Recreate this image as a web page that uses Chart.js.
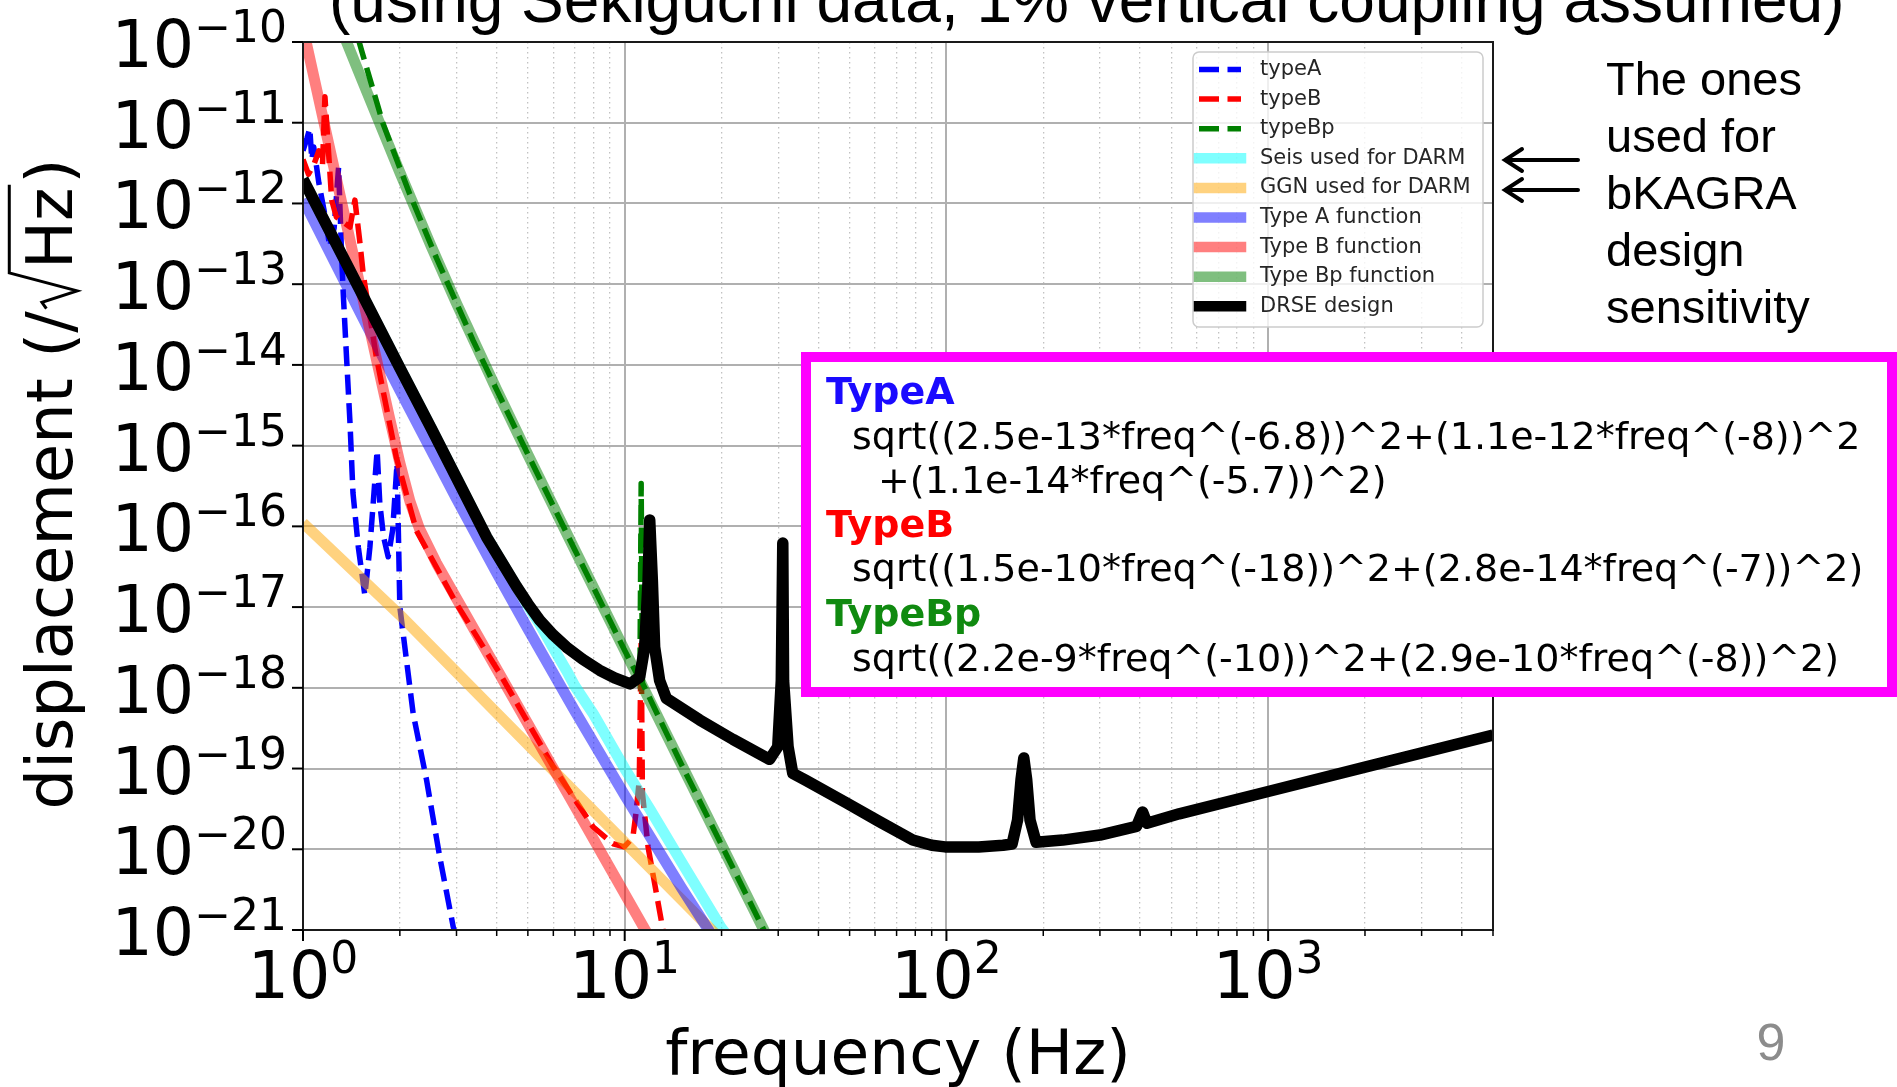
<!DOCTYPE html>
<html>
<head>
<meta charset="utf-8">
<script src="https://cdn.jsdelivr.net/npm/chart.js@4.4.0/dist/chart.umd.min.js"></script>
<style>
  html, body { margin: 0; padding: 0; background: #fff; overflow: hidden; }
  #wrap { width: 1897px; height: 1087px; }
</style>
</head>
<body>
<div id="wrap"><canvas id="noiseChart" width="1897" height="1087"></canvas></div>
<script>
// ---- measured data (dashed) ----
const typeAFreq = [1.0, 1.03, 1.05, 1.065, 1.08, 1.12, 1.18, 1.21, 1.25, 1.29, 1.32, 1.334, 1.367, 1.40, 1.43, 1.486, 1.557, 1.614, 1.70, 1.733, 1.78, 1.84, 1.90, 1.96, 2.0, 2.2, 2.42, 2.66, 2.93, 3.0];
const typeAVal  = [4.5e-12, 6.5e-12, 8.5e-12, 3.5e-12, 5.0e-12, 1.8e-12, 6.0e-13, 2.9e-13, 5.0e-13, 2.8e-12, 2.0e-13, 7.6e-14, 1.15e-14, 1.9e-15, 2.6e-16, 5.5e-17, 1.4e-17, 5.5e-17, 8.7e-16, 1.9e-16, 7.4e-17, 4.2e-17, 9.0e-17, 6.0e-16, 1.0e-17, 4.8e-19, 7.3e-20, 8.1e-21, 1.1e-21, 8.0e-22];

const typeBFreq = [1.0, 1.04, 1.08, 1.12, 1.15, 1.17, 1.228, 1.27, 1.40, 1.45, 1.50, 1.54, 1.69, 1.95, 2.25, 3.0, 4.09, 6.0, 7.97, 9.2, 9.97, 10.6, 10.84, 11.1, 11.2, 11.25, 11.35, 11.82, 13.15, 14.0];
const typeBVal  = [3.5e-12, 2.3e-12, 3.0e-12, 4.5e-12, 3.0e-12, 2.1e-11, 1.1e-12, 6.8e-13, 5.1e-13, 1.1e-12, 3.5e-13, 1.3e-13, 1.26e-14, 7.2e-16, 8.9e-17, 1.1e-17, 1.5e-18, 1.05e-19, 1.9e-20, 1.17e-20, 1.07e-20, 1.4e-20, 2.8e-20, 7.2e-20, 1.0e-18, 3.9e-18, 5.0e-20, 1.07e-20, 1.0e-21, 6.0e-22];

const typeBpFreq = [1.49, 1.52, 1.774, 2.148, 2.6, 3.38, 4, 5, 7, 10, 11.15, 11.25, 11.35, 15, 20, 30];
const typeBpVal  = [1.05e-10, 7.9e-11, 9.7e-12, 1.3e-12, 2.1e-13, 2.0e-14, 4.9e-15, 7.8e-16, 5.1e-17, 2.9e-18, 1.25e-18, 3.4e-16, 1.15e-18, 1.13e-19, 1.13e-20, 4.4e-22];

// ---- noise budget curves ----
const seisFreq = [1, 1.5, 2, 2.5, 3, 3.72, 4.61, 5, 5.44, 6, 6.59, 7, 8, 10, 12, 15, 20, 22];
const seisVal  = [2.0e-12, 8.6e-14, 9.2e-15, 1.66e-15, 4.0e-16, 7.4e-17, 1.8e-17, 1.05e-17, 6.2e-18, 3.1e-18, 1.64e-18, 1.05e-18, 4.7e-19, 1.0e-19, 3.1e-20, 7.0e-21, 1.05e-21, 6.5e-22];

const ggnFreq = [1, 2, 6, 20];
const ggnVal  = [1.1e-16, 8.0e-18, 9.5e-20, 7.5e-22];

const fnAFreq = [1, 1.5, 2, 3, 4, 5, 7, 10, 15, 20];
const fnAVal  = [1.13e-12, 4.6e-14, 4.85e-15, 2.2e-16, 2.65e-17, 5.4e-18, 5.15e-19, 4.66e-20, 3.35e-21, 5.6e-22];

const fnBFreq = [1.0, 1.1, 1.2, 1.3, 1.4, 1.5, 1.7, 1.85, 2.0, 2.15, 2.3, 2.6, 3, 4, 5, 7, 10, 12];
const fnBVal  = [1.5e-10, 2.7e-11, 5.6e-12, 1.33e-12, 3.5e-13, 1.0e-13, 1.07e-14, 2.36e-15, 6.1e-16, 2.04e-16, 9.4e-17, 3.5e-17, 1.28e-17, 1.71e-18, 3.58e-19, 3.4e-20, 2.8e-21, 7.8e-22];

const fnBpFreq = [1.3, 1.5, 2, 2.5, 3, 4, 5, 7, 10, 15, 20, 30];
const fnBpVal  = [1.63e-10, 3.98e-11, 2.43e-12, 2.99e-13, 5.78e-14, 4.9e-15, 7.76e-16, 5.09e-17, 2.91e-18, 1.13e-19, 1.13e-20, 4.4e-22];

const drseFreq = [1.0, 1.5, 2.0, 2.5, 3.0, 3.72, 4.61, 5.0, 5.44, 6.0, 6.59, 7.4, 8.36, 9.3, 10.4, 11.13, 11.54, 11.82, 11.96, 12.19, 12.39, 12.84, 13.47, 17.1, 21.7, 28.2, 29.9, 30.67, 31.0, 31.18, 32.2, 33.3, 34.9, 36.7, 48.8, 61.9, 78.6, 90, 99, 126, 150, 160, 166.4, 170.6, 174, 177.6, 181.9, 190, 230, 300, 390, 407, 420, 529, 1000, 2000, 5000];
const drseVal  = [2.0e-12, 8.6e-14, 9.2e-15, 1.66e-15, 4.0e-16, 7.4e-17, 1.8e-17, 1.1e-17, 6.9e-18, 4.5e-18, 3.2e-18, 2.26e-18, 1.65e-18, 1.33e-18, 1.12e-18, 1.36e-18, 3.2e-18, 2.1e-17, 1.2e-16, 2.1e-17, 3.2e-18, 1.23e-18, 7.4e-19, 4.0e-19, 2.3e-19, 1.3e-19, 1.86e-19, 1.23e-18, 6.2e-17, 1.23e-18, 1.86e-19, 8.7e-20, 7.9e-20, 7.1e-20, 3.76e-20, 2.2e-20, 1.3e-20, 1.12e-20, 1.07e-20, 1.07e-20, 1.12e-20, 1.16e-20, 2.3e-20, 7.3e-20, 1.35e-19, 7.3e-20, 2.3e-20, 1.22e-20, 1.3e-20, 1.5e-20, 1.92e-20, 2.9e-20, 2.1e-20, 2.75e-20, 5.2e-20, 1.04e-19, 2.6e-19];

// ---- axes ----
const xMajorTicks = [1, 10, 100, 1000];
const xMajorExp = ['0', '1', '2', '3'];
const xMinorTicks = [2, 3, 4, 5, 6, 7, 8, 9, 20, 30, 40, 50, 60, 70, 80, 90, 200, 300, 400, 500, 600, 700, 800, 900, 2000, 3000, 4000, 5000];
const yMajorTicks = [1e-21, 1e-20, 1e-19, 1e-18, 1e-17, 1e-16, 1e-15, 1e-14, 1e-13, 1e-12, 1e-11, 1e-10];
const yMajorExp = ['\u221221', '\u221220', '\u221219', '\u221218', '\u221217', '\u221216', '\u221215', '\u221214', '\u221213', '\u221212', '\u221211', '\u221210'];

const FONT = '"DejaVu Sans", sans-serif';
const ARIAL = '"Liberation Sans", Arial, sans-serif';

function pts(fs, vs) {
    return fs.map((f, i) => ({ x: f, y: vs[i] }));
}

const DASH = [20, 8.5];

const seriesDefs = [
    { label: 'typeA', f: typeAFreq, v: typeAVal, color: '#0000ff', width: 5.5, dash: DASH, band: false },
    { label: 'typeB', f: typeBFreq, v: typeBVal, color: '#ff0000', width: 5.5, dash: DASH, band: false },
    { label: 'typeBp', f: typeBpFreq, v: typeBpVal, color: '#008000', width: 5.5, dash: DASH, band: false },
    { label: 'Seis used for DARM', f: seisFreq, v: seisVal, color: 'rgba(0,255,255,0.5)', width: 11, dash: [], band: true },
    { label: 'GGN used for DARM', f: ggnFreq, v: ggnVal, color: 'rgba(255,165,0,0.5)', width: 11, dash: [], band: true },
    { label: 'Type A function', f: fnAFreq, v: fnAVal, color: 'rgba(0,0,255,0.5)', width: 11, dash: [], band: true },
    { label: 'Type B function', f: fnBFreq, v: fnBVal, color: 'rgba(255,0,0,0.5)', width: 11, dash: [], band: true },
    { label: 'Type Bp function', f: fnBpFreq, v: fnBpVal, color: 'rgba(0,128,0,0.5)', width: 11, dash: [], band: true },
    { label: 'DRSE design', f: drseFreq, v: drseVal, color: '#000000', width: 11.5, dash: [], band: true }
];

const datasets = seriesDefs.map((s, i) => ({
    label: s.label,
    data: pts(s.f, s.v),
    borderColor: s.color,
    borderWidth: s.width,
    borderDash: s.dash,
    borderJoinStyle: 'round',
    pointRadius: 0,
    fill: false,
    tension: 0,
    clip: 0,
    order: seriesDefs.length - i   // later entries on top, like matplotlib
}));

function isDecade(v) {
    const l = Math.log10(v);
    return Math.abs(l - Math.round(l)) < 1e-9;
}

function powLabel(ctx, exp, x, baseY, align) {
    ctx.font = '65px ' + FONT;
    const wb = ctx.measureText('10').width;
    ctx.font = '44px ' + FONT;
    const we = ctx.measureText(exp).width;
    const x0 = align === 'center' ? x - (wb + we) / 2 : x - (wb + we);
    ctx.textAlign = 'left';
    ctx.textBaseline = 'alphabetic';
    ctx.fillStyle = '#000';
    ctx.font = '65px ' + FONT;
    ctx.fillText('10', x0, baseY);
    ctx.font = '44px ' + FONT;
    ctx.fillText(exp, x0 + wb, baseY - 25);
}

const decor = {
    id: 'decor',
    afterDraw(chart) {
        const ctx = chart.ctx;
        const a = chart.chartArea;
        const xs = chart.scales.x, ys = chart.scales.y;
        ctx.save();

        // frame
        ctx.strokeStyle = '#1a1a1a';
        ctx.lineWidth = 2;
        ctx.strokeRect(a.left, a.top, a.right - a.left, a.bottom - a.top);

        // tick marks
        ctx.strokeStyle = '#000';
        ctx.lineWidth = 2;
        xMajorTicks.forEach(v => {
            const px = xs.getPixelForValue(v);
            ctx.beginPath(); ctx.moveTo(px, a.bottom); ctx.lineTo(px, a.bottom + 11); ctx.stroke();
        });
        ctx.lineWidth = 1.5;
        xMinorTicks.forEach(v => {
            const px = xs.getPixelForValue(v);
            ctx.beginPath(); ctx.moveTo(px, a.bottom); ctx.lineTo(px, a.bottom + 6); ctx.stroke();
        });
        ctx.lineWidth = 2;
        yMajorTicks.forEach(v => {
            const py = ys.getPixelForValue(v);
            ctx.beginPath(); ctx.moveTo(a.left - 11, py); ctx.lineTo(a.left, py); ctx.stroke();
        });

        // tick labels
        xMajorTicks.forEach((v, i) => powLabel(ctx, xMajorExp[i], xs.getPixelForValue(v), 998, 'center'));
        yMajorTicks.forEach((v, i) => powLabel(ctx, yMajorExp[i], a.left - 16, ys.getPixelForValue(v) + 25, 'right'));

        // x title
        ctx.font = '63px ' + FONT;
        ctx.textAlign = 'center';
        ctx.fillText('frequency (Hz)', (a.left + a.right) / 2, 1074);

        // y title with radical
        ctx.save();
        ctx.translate(72, 484);
        ctx.rotate(-Math.PI / 2);
        const em = 64;
        ctx.font = em + 'px ' + FONT;
        ctx.textAlign = 'left';
        const s1 = 'displacement (/';
        const w1 = ctx.measureText(s1).width;
        const wh = ctx.measureText('Hz').width;
        const wp = ctx.measureText(')').width;
        const wr = 0.66 * em;
        const total = w1 + wr + wh + 0.06 * em + wp;
        let u = -total / 2;
        ctx.fillText(s1, u, 0);
        u += w1;
        ctx.lineWidth = 3;
        ctx.lineJoin = 'miter';
        ctx.beginPath();
        ctx.moveTo(u + 0.04 * em, -0.40 * em);
        ctx.lineTo(u + 0.14 * em, -0.47 * em);
        ctx.lineTo(u + 0.32 * em, 0.08 * em);
        ctx.lineTo(u + 0.60 * em, -0.98 * em);
        ctx.lineTo(u + wr + wh + 0.04 * em, -0.98 * em);
        ctx.stroke();
        ctx.fillText('Hz', u + wr, 0);
        ctx.fillText(')', u + wr + wh + 0.06 * em, 0);
        ctx.restore();

        // legend
        const lx = 1193, ly = 52, lw = 290, lh = 275;
        ctx.beginPath();
        ctx.roundRect(lx, ly, lw, lh, 6);
        ctx.fillStyle = 'rgba(255,255,255,0.8)';
        ctx.fill();
        ctx.strokeStyle = '#cccccc';
        ctx.lineWidth = 1.5;
        ctx.stroke();
        ctx.font = '21px ' + FONT;
        ctx.textAlign = 'left';
        ctx.textBaseline = 'middle';
        seriesDefs.forEach((s, i) => {
            const yy = 69.5 + i * 29.6;
            ctx.strokeStyle = s.color;
            ctx.lineWidth = s.band ? 10.5 : 5.5;
            ctx.setLineDash(s.dash);
            ctx.lineCap = s.band ? 'square' : 'butt';
            ctx.beginPath();
            ctx.moveTo(1199, yy);
            ctx.lineTo(1241, yy);
            ctx.stroke();
            ctx.setLineDash([]);
            ctx.lineCap = 'butt';
            ctx.fillStyle = '#262626';
            ctx.fillText(s.label, 1260, yy);
        });

        // formula box
        ctx.fillStyle = '#ffffff';
        ctx.fillRect(801, 352, 1096, 345);
        ctx.strokeStyle = '#ff00ff';
        ctx.lineWidth = 10;
        ctx.strokeRect(806, 357, 1086, 335);
        ctx.textBaseline = 'alphabetic';
        const rows = [
            ['TypeA', 826, 404, '#1a0aff', true],
            ['sqrt((2.5e-13*freq^(-6.8))^2+(1.1e-12*freq^(-8))^2', 852, 449, '#000', false],
            ['+(1.1e-14*freq^(-5.7))^2)', 878, 493, '#000', false],
            ['TypeB', 826, 537, '#ff0000', true],
            ['sqrt((1.5e-10*freq^(-18))^2+(2.8e-14*freq^(-7))^2)', 852, 581, '#000', false],
            ['TypeBp', 826, 626, '#108a10', true],
            ['sqrt((2.2e-9*freq^(-10))^2+(2.9e-10*freq^(-8))^2)', 852, 671, '#000', false]
        ];
        rows.forEach(r => {
            ctx.font = (r[4] ? 'bold ' : '') + '38px ' + FONT;
            ctx.fillStyle = r[3];
            ctx.fillText(r[0], r[1], r[2]);
        });

        // title (clipped at top of slide)
        ctx.fillStyle = '#000';
        ctx.font = '64px ' + ARIAL;
        ctx.fillText('(using Sekiguchi data, 1% vertical coupling assumed)', 329, 22);

        // side note
        ctx.font = '47px ' + ARIAL;
        ['The ones', 'used for', 'bKAGRA', 'design', 'sensitivity'].forEach((t, i) => {
            ctx.fillText(t, 1606, 95 + i * 57);
        });

        // arrows
        ctx.strokeStyle = '#000';
        ctx.lineWidth = 4;
        ctx.lineCap = 'round';
        [160, 190].forEach(yy => {
            ctx.beginPath();
            ctx.moveTo(1578, yy); ctx.lineTo(1505, yy);
            ctx.moveTo(1522, yy - 11); ctx.lineTo(1505, yy); ctx.lineTo(1522, yy + 11);
            ctx.stroke();
        });

        // page number
        ctx.fillStyle = '#8c8c8c';
        ctx.font = '52px ' + ARIAL;
        ctx.textAlign = 'center';
        ctx.fillText('9', 1771, 1060);

        ctx.restore();
    }
};

const ctx = document.getElementById('noiseChart').getContext('2d');
const noiseChart = new Chart(ctx, {
    type: 'line',
    data: { datasets: datasets },
    options: {
        responsive: false,
        animation: false,
        events: [],
        layout: { autoPadding: false, padding: { left: 303, top: 42, right: 404, bottom: 157 } },
        plugins: { legend: { display: false }, tooltip: { enabled: false } },
        scales: {
            x: {
                type: 'logarithmic',
                min: 1,
                max: 5000,
                afterBuildTicks: (scale) => {
                    scale.ticks = xMajorTicks.concat(xMinorTicks).sort((p, q) => p - q).map(v => ({ value: v }));
                },
                ticks: { display: false },
                grid: {
                    drawTicks: false,
                    color: (c) => (c.tick && isDecade(c.tick.value)) ? '#b0b0b0' : '#c2c2c2',
                    lineWidth: (c) => (c.tick && isDecade(c.tick.value)) ? 2 : 1.3
                },
                border: {
                    display: false,
                    dash: (c) => (c.tick && !isDecade(c.tick.value)) ? [1.5, 3.5] : []
                }
            },
            y: {
                type: 'logarithmic',
                min: 1e-21,
                max: 1e-10,
                afterBuildTicks: (scale) => {
                    scale.ticks = yMajorTicks.map(v => ({ value: v }));
                },
                ticks: { display: false },
                grid: { drawTicks: false, color: '#b0b0b0', lineWidth: 2 },
                border: { display: false }
            }
        }
    },
    plugins: [decor]
});
</script>
</body>
</html>
